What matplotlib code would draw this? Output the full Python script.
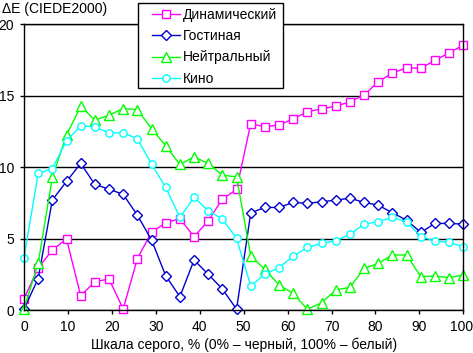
import numpy as np
import matplotlib
matplotlib.use("Agg")
import matplotlib.pyplot as plt
from matplotlib.patches import Rectangle
from matplotlib.transforms import ScaledTranslation

plt.rcParams['font.family'] = ['Liberation Sans', 'DejaVu Sans']
plt.rcParams['font.size'] = 10

# 32 grey levels, 0..100 %
grey = np.linspace(0, 100, 32)

dynamic = [0.79, 2.94, 4.2, 4.97, 1.0, 1.98, 2.17, 0.07, 3.6, 5.45,
           6.1, 6.4, 5.13, 6.25, 7.76, 8.44, 13.05, 12.82, 12.96, 13.38,
           13.88, 14.08, 14.27, 14.57, 15.06, 15.97, 16.6, 16.95, 16.92, 17.48,
           18.0, 18.55]
living = [0.07, 2.2, 7.7, 9.0, 10.26, 8.79, 8.46, 8.09, 6.64, 4.9,
          2.4, 0.93, 3.5, 2.5, 1.47, 0.05, 6.8, 7.18, 7.18, 7.53,
          7.46, 7.58, 7.69, 7.83, 7.53, 7.34, 6.8, 6.29, 5.43, 6.06,
          6.06, 6.01]
neutral = [0.1, 3.26, 9.3, 12.24, 14.27, 13.29, 13.64, 14.1, 14.03, 12.7,
           11.49, 10.19, 10.72, 10.26, 9.44, 9.32, 3.78, 2.84, 1.75, 1.16,
           0.05, 0.51, 1.4, 1.59, 2.91, 3.26, 3.85, 3.85, 2.33, 2.38,
           2.26, 2.45]
cinema = [3.66, 9.56, 9.9, 11.84, 12.89, 12.82, 12.4, 12.4, 12.0, 10.21,
          8.58, 6.48, 7.88, 6.95, 6.36, 5.01, 1.68, 2.52, 2.96, 3.78,
          4.38, 4.66, 4.85, 5.29, 6.01, 6.18, 6.48, 6.18, 5.13, 4.83,
          4.73, 4.43]

series = [
    ("Динамический", dynamic, '#FF00FF', 's', 5.5),
    ("Гостиная", living, '#0000CC', 'D', 4.8),
    ("Нейтральный", neutral, '#00FF00', '^', 7.3),
    ("Кино", cinema, '#00FFFF', 'o', 5.3),
]

fig = plt.figure(figsize=(4.73, 3.53), dpi=100)
ax = fig.add_axes([24 / 473, 43 / 353, 439.3 / 473, 285.7 / 353])

for name, vals, col, mk, ms in series:
    ax.plot(grey, vals, color=col, lw=1, marker=mk, ms=ms,
            mfc='white', mec=col, mew=1, label=name, clip_on=False)

ax.set_xlim(0, 100)
ax.set_ylim(0, 20)
ax.set_xticks(np.arange(0, 101, 10))
ax.set_yticks(np.arange(0, 21, 5))
ax.grid(axis='y', color='black', lw=1)
ax.set_axisbelow(True)
for s in ax.spines.values():
    s.set_linewidth(1)
ax.tick_params(length=3, width=1, pad=4, labelsize=10)

# keep "100" inside the picture
fig.canvas.draw()
last = ax.get_xticklabels()[-1]
last.set_transform(last.get_transform() + ScaledTranslation(-2 / 100, 0, fig.dpi_scale_trans))

ax.set_xlabel("Шкала серого, % (0% – черный, 100% – белый)", labelpad=3)
fig.text(0.004, 0.995, "ΔE (CIEDE2000)", ha='left', va='top', fontsize=10)

# legend frame drawn by hand, entries placed inside it
fig.patches.append(Rectangle((137.7 / 473, 1 - 88 / 353), 145.6 / 473, 85 / 353,
                             transform=fig.transFigure, fc='white', ec='black',
                             lw=1, zorder=5))
leg = fig.legend(loc='upper left', bbox_to_anchor=(152 / 473, 1 - 8 / 353),
                 borderaxespad=0, frameon=False, borderpad=0,
                 handlelength=2.0, handletextpad=0.2,
                 labelspacing=0.52, fontsize=10)
leg.set_zorder(6)

fig.savefig("out.png", dpi=100)
